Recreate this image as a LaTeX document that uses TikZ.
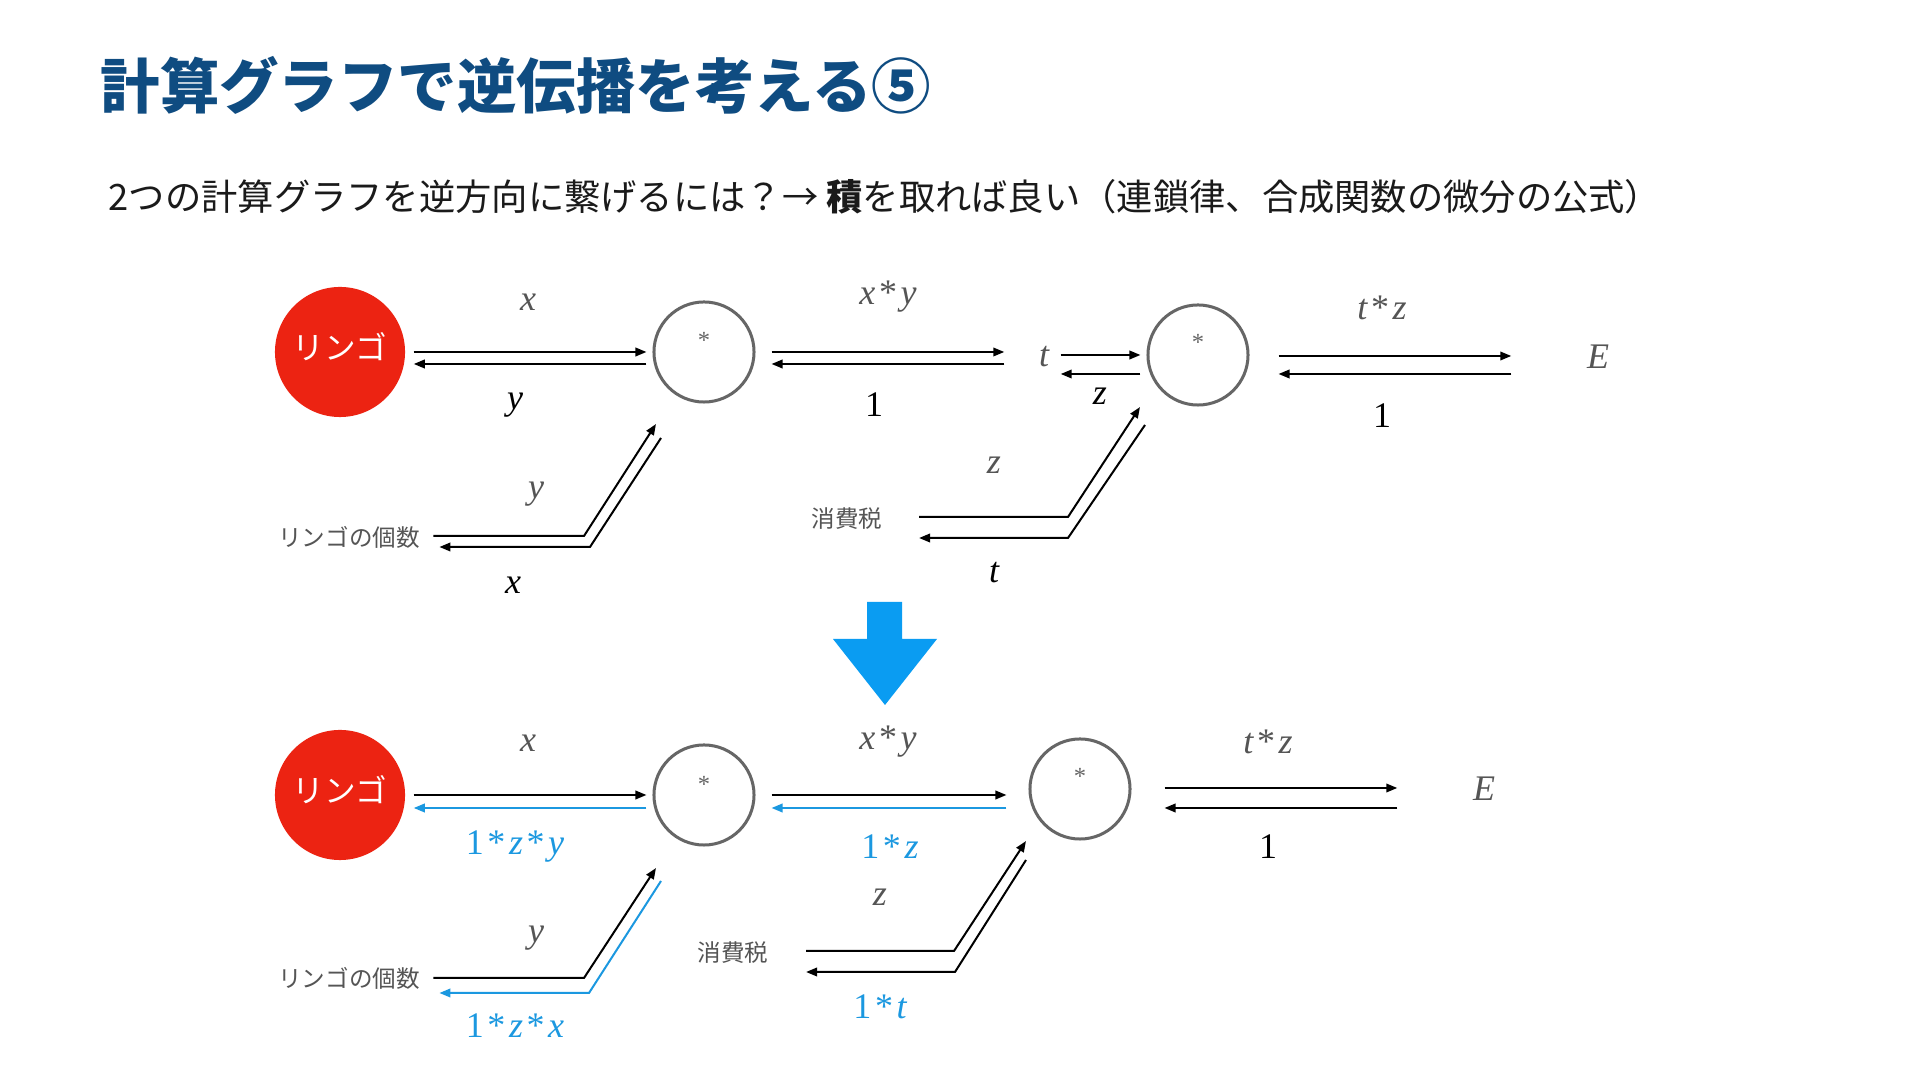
\documentclass[tikz,border=0pt]{standalone}
\usepackage{fontspec}
\usetikzlibrary{arrows.meta}
\newfontfamily\jp{Noto Sans CJK JP}
\newfontfamily\tm{Liberation Serif}
\definecolor{titleblue}{HTML}{0F4C81}
\definecolor{lblue}{HTML}{1B98E0}
\definecolor{bigblue}{HTML}{0A9CF2}
\definecolor{appred}{HTML}{EC2312}
\definecolor{lgray}{HTML}{555555}
\definecolor{cgray}{HTML}{666666}
\definecolor{subblack}{HTML}{1A1A1A}
\tikzset{
  fw/.style={line width=0.02cm, -{Triangle[length=0.11cm,width=0.085cm]}},
  fwb/.style={fw, draw=lblue},
  opnode/.style={circle, draw=cgray, line width=0.03cm, minimum size=1cm, inner sep=0pt},
  apple/.style={circle, fill=appred, minimum size=1.3cm, inner sep=0pt, text=white, font=\jp\fontsize{9pt}{10pt}\selectfont},
  lab/.style={inner sep=0pt, font=\tm\fontsize{10.24pt}{12pt}\selectfont},
  glab/.style={lab, text=lgray},
  klab/.style={lab, text=black},
  blab/.style={lab, text=lblue},
  jlab/.style={inner sep=0pt, text=lgray, font=\jp\fontsize{6.7pt}{8pt}\selectfont},
  star/.style={inner sep=0pt, text=cgray, font=\tm\fontsize{7pt}{8pt}\selectfont},
}
\newcommand\mul{\hspace{0.1em}*\hspace{0.1em}}
\begin{document}
\begin{tikzpicture}[x=0.01cm, y=-0.01cm]
\fill[white] (0,0) rectangle (1920,1080);
\useasboundingbox (0,0) rectangle (1920,1080);

% title and subtitle
\node[anchor=west, inner sep=0pt, text=titleblue, font=\jp\bfseries\fontsize{16.9pt}{19pt}\selectfont] (title) at (100,85) {計算グラフで逆伝播を考える⑤};
\node[anchor=west, inner sep=0pt, text=subblack, font=\jp\fontsize{10.32pt}{12pt}\selectfont] (sub) at (108,197) {2つの計算グラフを逆方向に繋げるには？→ {\bfseries 積}を取れば良い（連鎖律、合成関数の微分の公式）};

% ================= upper graph =================
\node[apple] (r1) at (340,352) {\raisebox{0.12cm}{リンゴ}};
\node[opnode] (c1) at (704,352) {};
\node[star] (s1) at (704,340) {*};
\node[opnode] (c3) at (1198,355) {};
\node[star] (s3) at (1198,342) {*};
\node[glab] (lt1) at (1044,357) {\itshape t};
\node[glab] (E1) at (1598,357) {\itshape E};
\node[jlab] (n1) at (349,537) {リンゴの個数};
\node[jlab] (n2) at (847,519) {消費税};

\node[glab] (lx1) at (528,302) {\itshape x};
\node[klab] (ly1) at (515,405) {\itshape y};
\node[glab] (lxy1) at (888,297) {{\itshape x}\mul{\itshape y}};
\node[klab] (l11) at (874,405) {1};
\node[klab] (lz1) at (1100,396) {\itshape z};
\node[glab] (ltz1) at (1382,308) {{\itshape t}\mul{\itshape z}};
\node[klab] (l12) at (1382,416) {1};
\node[glab] (ly2) at (536,494) {\itshape y};
\node[klab] (lx2) at (513,585) {\itshape x};
\node[glab] (lz2) at (994,465) {\itshape z};
\node[klab] (lt2) at (994,573) {\itshape t};

\draw[fw] ([shift={(8,0)}]r1.east) -- ([shift={(-6,0)}]c1.west);
\draw[fw] ([shift={(-6,12)}]c1.west) -- ([shift={(8,12)}]r1.east);
\draw[fw] ([shift={(16,0)}]c1.east) -- ([shift={(-34,-5)}]lt1.west);
\draw[fw] ([shift={(-34,7)}]lt1.west) -- ([shift={(16,12)}]c1.east);
\draw[fw] ([shift={(11,-2)}]lt1.east) -- ([shift={(-6,0)}]c3.west);
\draw[fw] ([shift={(-6,19)}]c3.west) -- ([shift={(11,17)}]lt1.east);
\draw[fw] ([shift={(29,1)}]c3.east) -- ([shift={(-75,-1)}]E1.west);
\draw[fw] ([shift={(-75,17)}]E1.west) -- ([shift={(29,19)}]c3.east);

\coordinate (ua1) at (584,536);
\coordinate (ua2) at (656,424);
\coordinate (ub0) at (661,438);
\coordinate (ub1) at (590,547);
\draw[fw] ([shift={(13,-1)}]n1.east) -- (ua1) -- (ua2);
\draw[fw] (ub0) -- (ub1) -- ([shift={(19,10)}]n1.east);

\coordinate (ta1) at (1068,517);
\coordinate (ta2) at (1140,407);
\coordinate (tb0) at (1145,425);
\coordinate (tb1) at (1068,538);
\draw[fw] ([shift={(36,-2)}]n2.east) -- (ta1) -- (ta2);
\draw[fw] (tb0) -- (tb1) -- ([shift={(36,19)}]n2.east);

% ================= big arrow =================
\fill[bigblue] (867,602) -- (902,602) -- (902,639) -- (937,639) -- (885,705) -- (833,639) -- (867,639) -- cycle;

% ================= lower graph =================
\node[apple] (r2) at (340,795) {\raisebox{0.12cm}{リンゴ}};
\node[opnode] (c4) at (704,795) {};
\node[star] (s4) at (704,784) {*};
\node[opnode] (c5) at (1080,789) {};
\node[star] (s5) at (1080,776) {*};
\node[glab] (E2) at (1484,789) {\itshape E};
\node[jlab] (n3) at (349,978) {リンゴの個数};
\node[jlab] (n4) at (733,953) {消費税};

\node[glab] (lx3) at (528,743) {\itshape x};
\node[blab] (lzy) at (515,847) {1\mul{\itshape z}\mul{\itshape y}};
\node[glab] (lxy2) at (888,742) {{\itshape x}\mul{\itshape y}};
\node[blab] (lz3) at (890,847) {1\mul{\itshape z}};
\node[glab] (ltz2) at (1268,742) {{\itshape t}\mul{\itshape z}};
\node[klab] (l13) at (1268,847) {1};
\node[glab] (ly4) at (536,938) {\itshape y};
\node[blab] (lzx) at (515,1026) {1\mul{\itshape z}\mul{\itshape x}};
\node[glab] (lz4) at (880,897) {\itshape z};
\node[blab] (lt4) at (880,1007) {1\mul{\itshape t}};

\draw[fw] ([shift={(8,0)}]r2.east) -- ([shift={(-6,0)}]c4.west);
\draw[fwb] ([shift={(-6,13)}]c4.west) -- ([shift={(8,13)}]r2.east);
\draw[fw] ([shift={(16,0)}]c4.east) -- ([shift={(-22,6)}]c5.west);
\draw[fwb] ([shift={(-22,19)}]c5.west) -- ([shift={(16,13)}]c4.east);
\draw[fw] ([shift={(33,-1)}]c5.east) -- ([shift={(-75,-1)}]E2.west);
\draw[fw] ([shift={(-75,19)}]E2.west) -- ([shift={(33,19)}]c5.east);

\coordinate (la1) at (584,978);
\coordinate (la2) at (656,868);
\coordinate (lb0) at (661,881);
\coordinate (lb1) at (589,993);
\draw[fw] ([shift={(13,0)}]n3.east) -- (la1) -- (la2);
\draw[fwb] (lb0) -- (lb1) -- ([shift={(19,15)}]n3.east);

\coordinate (ma1) at (954,951);
\coordinate (ma2) at (1026,841);
\coordinate (mb0) at (1026,860);
\coordinate (mb1) at (955,972);
\draw[fw] ([shift={(37,-2)}]n4.east) -- (ma1) -- (ma2);
\draw[fw] (mb0) -- (mb1) -- ([shift={(37,19)}]n4.east);
\end{tikzpicture}
\end{document}
